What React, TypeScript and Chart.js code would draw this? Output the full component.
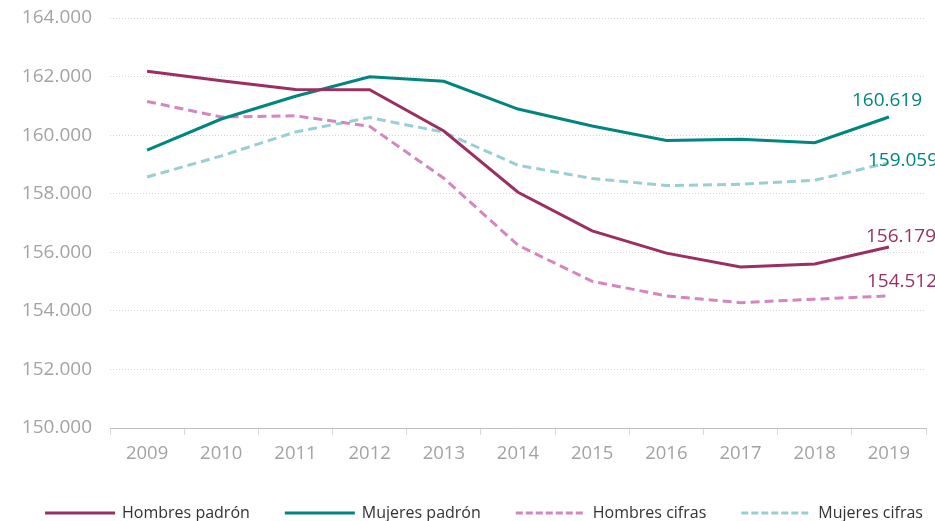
import React, { useEffect, useRef } from "react";
import { Chart, registerables } from "chart.js";

Chart.register(...registerables);

const years = ["2009", "2010", "2011", "2012", "2013", "2014", "2015", "2016", "2017", "2018", "2019"];
const hombresPadron = [162180, 161860, 161560, 161550, 160140, 158050, 156730, 155970, 155500, 155600, 156179];
const mujeresPadron = [159490, 160550, 161330, 161990, 161840, 160890, 160310, 159820, 159860, 159740, 160619];
const hombresCifras = [161150, 160620, 160660, 160300, 158530, 156240, 155010, 154510, 154280, 154400, 154512];
const mujeresCifras = [158570, 159290, 160110, 160600, 160100, 158970, 158520, 158280, 158320, 158460, 159059];
const seriesNames = ["Hombres padrón", "Mujeres padrón", "Hombres cifras", "Mujeres cifras"];
const yMin = 150000;
const yMax = 164000;
const yStep = 2000;

const MAROON = "#9b2f62";
const TEAL = "#00857f";
const PINK = "#d487bf";
const LTEAL = "#99cfd2";
const FONT = "'Open Sans', sans-serif";

const fmt = (v: number) => {
  const s = Math.round(v).toString();
  return s.replace(/\B(?=(\d{3})+(?!\d))/g, ".");
};

// end labels: dataset index, color, offsets
const endLabels = [
  { ds: 1, color: TEAL, dx: -37, dy: -16 },
  { ds: 3, color: TEAL, dx: -21, dy: -2 },
  { ds: 0, color: MAROON, dx: -23, dy: -10 },
  { ds: 2, color: MAROON, dx: -22, dy: -14 },
];

const endLabelPlugin = {
  id: "endLabels",
  afterDatasetsDraw(chart: any) {
    const ctx = chart.ctx;
    ctx.save();
    ctx.font = `19px ${FONT}`;
    ctx.textAlign = "left";
    ctx.textBaseline = "middle";
    endLabels.forEach((l) => {
      const meta = chart.getDatasetMeta(l.ds);
      const pt = meta.data[meta.data.length - 1];
      const data = chart.data.datasets[l.ds].data;
      const v = data[data.length - 1] as number;
      ctx.fillStyle = l.color;
      ctx.fillText(fmt(v), pt.x + l.dx, pt.y + l.dy);
    });
    ctx.restore();
  },
};

const legendPlugin = {
  id: "customLegend",
  afterDraw(chart: any) {
    const ctx = chart.ctx;
    ctx.save();
    ctx.font = `16px ${FONT}`;
    ctx.textBaseline = "middle";
    ctx.textAlign = "left";
    const lineW = 70;
    const gap = 7;
    const itemGap = 35;
    const y = 513;
    const ds = chart.data.datasets;
    let total = 0;
    ds.forEach((d: any, i: number) => {
      total += lineW + gap + ctx.measureText(d.label).width + (i < ds.length - 1 ? itemGap : 0);
    });
    let x = 484 - total / 2;
    ds.forEach((d: any) => {
      ctx.beginPath();
      ctx.strokeStyle = d.borderColor;
      ctx.lineWidth = 3;
      ctx.setLineDash(d.borderDash && d.borderDash.length ? [7, 3] : []);
      ctx.moveTo(x, y);
      ctx.lineTo(x + lineW, y);
      ctx.stroke();
      ctx.setLineDash([]);
      ctx.fillStyle = "#333333";
      const tx = x + lineW + gap;
      ctx.fillText(d.label, tx, y);
      x = tx + ctx.measureText(d.label).width + itemGap;
    });
    ctx.restore();
  },
};

export default function App() {
  const ref = useRef<HTMLCanvasElement | null>(null);
  useEffect(() => {
    if (!ref.current) return;
    const mk = (label: string, data: number[], color: string, dashed: boolean) => ({
      label,
      data,
      borderColor: color,
      backgroundColor: color,
      borderWidth: 3,
      borderDash: dashed ? [9, 5] : [],
      pointRadius: 0,
      pointHoverRadius: 0,
      tension: 0,
      fill: false,
    });
    const chart = new Chart(ref.current, {
      type: "line",
      data: {
        labels: years,
        datasets: [
          mk(seriesNames[0], hombresPadron, MAROON, false),
          mk(seriesNames[1], mujeresPadron, TEAL, false),
          mk(seriesNames[2], hombresCifras, PINK, true),
          mk(seriesNames[3], mujeresCifras, LTEAL, true),
        ],
      },
      options: {
        animation: false,
        responsive: true,
        maintainAspectRatio: false,
        layout: { padding: { left: 0, right: 9, top: 18, bottom: 0 } },
        plugins: {
          legend: { display: false },
          tooltip: { enabled: false },
        },
        scales: {
          x: {
            offset: true,
            grid: {
              offset: true,
              drawOnChartArea: false,
              drawTicks: true,
              tickLength: 7,
              tickColor: "#d9d9d9",
            },
            border: { display: true, color: "#bfbfbf", width: 1 },
            ticks: {
              color: "#a3a3a3",
              font: { family: FONT, size: 18.5 },
              padding: 8,
              maxRotation: 0,
            },
            afterFit: (s: any) => {
              s.height = 93;
              s.paddingLeft = 0;
              s.paddingRight = 0;
            },
          },
          y: {
            min: yMin,
            max: yMax,
            grid: { color: "#d4d4d4", lineWidth: 1, drawTicks: false },
            border: { display: false, dash: [1, 2] },
            ticks: {
              stepSize: yStep,
              color: "#a3a3a3",
              font: { family: FONT, size: 19 },
              padding: 18,
              callback: (v: any) => fmt(Number(v)),
            },
            afterFit: (s: any) => {
              s.width = 110;
              s.paddingTop = 0;
              s.paddingBottom = 0;
            },
          },
        },
      },
      plugins: [endLabelPlugin, legendPlugin],
    });
    return () => chart.destroy();
  }, []);
  return (
    <div style={{ position: "fixed", left: 0, top: 0, width: 935, height: 521, background: "#ffffff" }}>
      <canvas ref={ref} />
    </div>
  );
}
